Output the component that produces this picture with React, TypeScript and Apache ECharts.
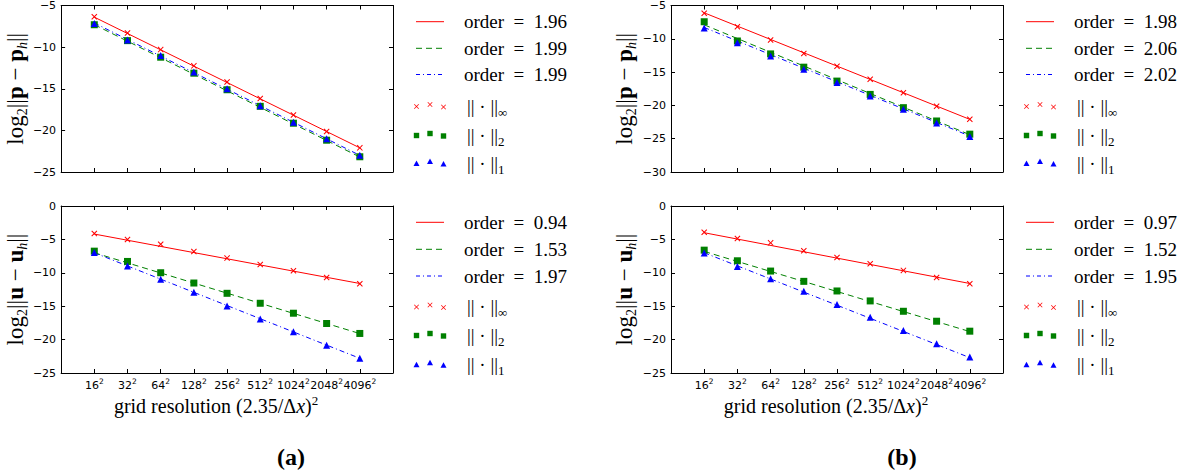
import React, { useEffect, useRef } from "react";
import * as echarts from "echarts";

// x positions: log2 of grid size N (tick label N^2)
const gridLog2 = [4, 5, 6, 7, 8, 9, 10, 11, 12];
const fitEnds = [4, 12];

// Panel (a) top: pressure error
const aP_inf = [-6.35, -8.31, -10.3, -12.25, -14.2, -16.16, -18.15, -20.14, -22.1];
const aP_l2 = [-7.31, -9.22, -11.21, -13.13, -15.12, -17.11, -19.14, -21.18, -23.17];
const aP_l1 = [-7.15, -9.14, -11.02, -13.0, -15.0, -17.03, -19.02, -21.02, -23.0];
const aP_fitInf = [-6.4, -22.1];
const aP_fitL2 = [-7.3, -23.2];
const aP_fitL1 = [-7.1, -23.0];
const aP_orders = ["1.96", "1.99", "1.99"];

// Panel (a) bottom: velocity error
const aU_inf = [-4.13, -5.02, -5.72, -6.81, -7.8, -8.75, -9.69, -10.69, -11.63];
const aU_l2 = [-6.76, -8.3, -9.99, -11.53, -13.07, -14.56, -16.05, -17.59, -19.08];
const aU_l1 = [-6.96, -9.0, -10.98, -12.92, -14.96, -16.9, -18.84, -20.83, -22.81];
const aU_fitInf = [-4.2, -11.6];
const aU_fitL2 = [-7.0, -19.1];
const aU_fitL1 = [-7.0, -22.8];
const aU_orders = ["0.94", "1.53", "1.97"];

// Panel (b) top
const bP_inf = [-6.15, -8.19, -10.18, -12.22, -14.11, -16.06, -18.1, -20.14, -22.08];
const bP_l2 = [-7.44, -10.33, -12.27, -14.26, -16.35, -18.35, -20.34, -22.34, -24.32];
const bP_l1 = [-8.39, -10.58, -12.57, -14.56, -16.55, -18.6, -20.59, -22.63, -24.67];
const bP_fitInf = [-6.1, -22.1];
const bP_fitL2 = [-7.9, -24.4];
const bP_fitL1 = [-8.3, -24.6];
const bP_orders = ["1.98", "2.06", "2.02"];

// Panel (b) bottom
const bU_inf = [-3.93, -4.87, -5.52, -6.71, -7.7, -8.65, -9.64, -10.69, -11.63];
const bU_l2 = [-6.61, -8.2, -9.74, -11.28, -12.72, -14.21, -15.76, -17.25, -18.74];
const bU_l1 = [-7.05, -9.04, -10.88, -12.77, -14.76, -16.65, -18.64, -20.63, -22.61];
const bU_fitInf = [-4.0, -11.6];
const bU_fitL2 = [-6.8, -18.8];
const bU_fitL1 = [-7.0, -22.7];
const bU_orders = ["0.97", "1.52", "1.95"];

const RED = "#ff0000";
const GREEN = "#008000";
const BLUE = "#0000ff";
const SERIF = "Liberation Serif";
const SANS = "DejaVu Sans";

const X_SYMBOL =
  "path://M0,1.2 L1.2,0 L5,3.8 L8.8,0 L10,1.2 L6.2,5 L10,8.8 L8.8,10 L5,6.2 L1.2,10 L0,8.8 L3.8,5 Z";

type Panel = {
  left: number;
  top: number;
  width: number;
  height: number;
  ymin: number;
  ymax: number;
  showX: boolean;
  yName: string;
  inf: number[];
  l2: number[];
  l1: number[];
  fitInf: number[];
  fitL2: number[];
  fitL1: number[];
  orders: string[];
  legX: number;
  rows: number[];
};

const panels: Panel[] = [
  {
    left: 60, top: 5, width: 333, height: 167, ymin: -25, ymax: -5, showX: false, yName: "p",
    inf: aP_inf, l2: aP_l2, l1: aP_l1, fitInf: aP_fitInf, fitL2: aP_fitL2, fitL1: aP_fitL1,
    orders: aP_orders, legX: 416, rows: [21.7, 48.3, 74.5, 106, 135, 163],
  },
  {
    left: 60, top: 206, width: 333, height: 167, ymin: -25, ymax: 0, showX: true, yName: "u",
    inf: aU_inf, l2: aU_l2, l1: aU_l1, fitInf: aU_fitInf, fitL2: aU_fitL2, fitL1: aU_fitL1,
    orders: aU_orders, legX: 416, rows: [222.3, 249.3, 276, 306.5, 335, 364.3],
  },
  {
    left: 671, top: 5, width: 332, height: 167, ymin: -30, ymax: -5, showX: false, yName: "p",
    inf: bP_inf, l2: bP_l2, l1: bP_l1, fitInf: bP_fitInf, fitL2: bP_fitL2, fitL1: bP_fitL1,
    orders: bP_orders, legX: 1026, rows: [21.7, 48.3, 74.5, 106, 135, 163],
  },
  {
    left: 671, top: 206, width: 332, height: 167, ymin: -25, ymax: 0, showX: true, yName: "u",
    inf: bU_inf, l2: bU_l2, l1: bU_l1, fitInf: bU_fitInf, fitL2: bU_fitL2, fitL1: bU_fitL1,
    orders: bU_orders, legX: 1026, rows: [222.3, 249.3, 276, 306.5, 335, 364.3],
  },
];

const minusFmt = (v: number) => (v < 0 ? "\u2212" + Math.abs(v) : String(v));

function txt(x: number, y: number, text: string, size: number, family: string, extra: any = {}) {
  return {
    type: "text", x, y, silent: true,
    style: { text, fill: "#000", fontFamily: family, fontSize: size, align: "left", verticalAlign: "middle", ...extra },
  };
}

function buildOption() {
  const grid: any[] = [];
  const xAxis: any[] = [];
  const yAxis: any[] = [];
  const series: any[] = [];
  const graphic: any[] = [];

  const axisLine = { show: true, onZero: false, lineStyle: { color: "#000", width: 1 } };
  const axisTick = { show: true, inside: true, length: 4, lineStyle: { color: "#000", width: 1 } };

  panels.forEach((p, i) => {
    grid.push({ left: p.left, top: p.top, width: p.width, height: p.height, containLabel: false });
    const xi = xAxis.length;
    xAxis.push({
      type: "value", gridIndex: i, min: 3, max: 13, interval: 1, position: "bottom",
      axisLine, axisTick, splitLine: { show: false },
      axisLabel: {
        show: p.showX, margin: 4, color: "#000", fontFamily: SANS, fontSize: 11, lineHeight: 16,
        formatter: (v: number) => (v >= 4 && v <= 12 ? `${Math.pow(2, v)}{s|2}` : ""),
        rich: { s: { fontSize: 7.5, fontFamily: SANS, verticalAlign: "top", lineHeight: 8, color: "#000" } },
      },
      name: p.showX ? "grid resolution (2.35/\u0394{i|x}){s|2}" : "",
      nameLocation: "middle",
      nameGap: 20,
      nameTextStyle: {
        fontFamily: SERIF, fontSize: 20, color: "#000", lineHeight: 24, padding: [0, 22, 0, 0],
        rich: {
          i: { fontFamily: SERIF, fontSize: 20, fontStyle: "italic", color: "#000", lineHeight: 24 },
          s: { fontFamily: SERIF, fontSize: 13, verticalAlign: "top", lineHeight: 12, color: "#000" },
        },
      },
    });
    xAxis.push({
      type: "value", gridIndex: i, min: 3, max: 13, interval: 1, position: "top",
      axisLine, axisTick, axisLabel: { show: false }, splitLine: { show: false },
    });
    const yi = yAxis.length;
    const v = p.yName;
    yAxis.push({
      type: "value", gridIndex: i, min: p.ymin, max: p.ymax, interval: 5, position: "left",
      axisLine, axisTick, splitLine: { show: false },
      axisLabel: { color: "#000", fontFamily: SANS, fontSize: 11, margin: 5, formatter: minusFmt },
      name: `log{s|2}||{b|${v}} \u2212 {b|${v}}{h|h}||`,
      nameLocation: "middle",
      nameRotate: 90,
      nameGap: 31,
      nameTextStyle: {
        fontFamily: SERIF, fontSize: 23, color: "#000", lineHeight: 28,
        rich: {
          b: { fontFamily: SERIF, fontSize: 23, fontWeight: "bold", color: "#000", lineHeight: 28 },
          s: { fontFamily: SERIF, fontSize: 14, verticalAlign: "bottom", lineHeight: 14, color: "#000" },
          h: { fontFamily: SERIF, fontSize: 14, fontStyle: "italic", verticalAlign: "bottom", lineHeight: 14, color: "#000" },
        },
      },
    });
    yAxis.push({
      type: "value", gridIndex: i, min: p.ymin, max: p.ymax, interval: 5, position: "right",
      axisLine, axisTick, axisLabel: { show: false }, splitLine: { show: false },
    });

    const fit = (vals: number[], color: string, type: any, z: number) => ({
      type: "line", xAxisIndex: xi, yAxisIndex: yi, showSymbol: false, symbol: "none",
      data: fitEnds.map((x, k) => [x, vals[k]]),
      lineStyle: { color, width: 1, type }, z, silent: true,
    });
    series.push(fit(p.fitInf, RED, "solid", 2));
    series.push(fit(p.fitL2, GREEN, [6, 4], 2));
    series.push(fit(p.fitL1, BLUE, [5, 3, 1, 3], 2));

    const sc = (vals: number[], color: string, symbol: string, size: number, z: number) => ({
      type: "scatter", xAxisIndex: xi, yAxisIndex: yi, symbol, symbolSize: size,
      data: gridLog2.map((x, k) => [x, vals[k]]),
      itemStyle: { color, opacity: 1 }, z, silent: true,
    });
    series.push(sc(p.inf, RED, X_SYMBOL, 6, 3));
    series.push(sc(p.l2, GREEN, "rect", 7, 4));
    series.push(sc(p.l1, BLUE, "triangle", 7, 5));

    // legend (drawn)
    const lx0 = p.legX;
    const lx1 = p.legX + 28;
    const tx = p.legX + 48;
    const lines: [string, any][] = [
      [RED, null],
      [GREEN, [6, 4]],
      [BLUE, [4, 3, 1, 3]],
    ];
    lines.forEach(([c, dash], k) => {
      graphic.push({
        type: "line", shape: { x1: lx0, y1: p.rows[k], x2: lx1, y2: p.rows[k] },
        style: { stroke: c, lineWidth: 1, lineDash: dash || undefined }, silent: true,
      });
      graphic.push(txt(tx, p.rows[k], `order  =  ${p.orders[k]}`, 19, SERIF));
    });
    const mx = [lx0 + 0.5, lx0 + 14, lx0 + 27.5];
    const dy = [0.5, -1.5, 1];
    mx.forEach((x, k) => {
      const y = p.rows[3] + dy[k];
      graphic.push({
        type: "polygon",
        shape: {
          points: [
            [x - 2.5, y - 2], [x - 2, y - 2.5], [x, y - 0.5], [x + 2, y - 2.5], [x + 2.5, y - 2],
            [x + 0.5, y], [x + 2.5, y + 2], [x + 2, y + 2.5], [x, y + 0.5], [x - 2, y + 2.5],
            [x - 2.5, y + 2], [x - 0.5, y],
          ],
        },
        style: { fill: RED }, silent: true,
      });
      const y2 = p.rows[4] + dy[k];
      graphic.push({ type: "rect", shape: { x: x - 2.7, y: y2 - 2.7, width: 5.4, height: 5.4 }, style: { fill: GREEN }, silent: true });
      const y3 = p.rows[5] + dy[k];
      graphic.push({
        type: "polygon",
        shape: { points: [[x, y3 - 3], [x + 3, y3 + 2.5], [x - 3, y3 + 2.5]] },
        style: { fill: BLUE }, silent: true,
      });
    });
    const normSubs = ["\u221e", "2", "1"];
    normSubs.forEach((sub, k) => {
      const y = p.rows[3 + k];
      graphic.push(txt(tx + 3, y, "|| \u00b7 ||", 19, SERIF));
      graphic.push(txt(tx + 34, y + 6, sub, 13, SERIF));
    });
  });

  graphic.push(txt(291, 457, "(a)", 24, SERIF, { fontWeight: "bold", align: "center" }));
  graphic.push(txt(902, 457, "(b)", 24, SERIF, { fontWeight: "bold", align: "center" }));

  return {
    animation: false,
    backgroundColor: "#ffffff",
    grid,
    xAxis,
    yAxis,
    series,
    graphic,
  };
}

export default function App() {
  const ref = useRef<HTMLDivElement>(null);
  useEffect(() => {
    if (!ref.current) return;
    const chart = echarts.init(ref.current, undefined, { renderer: "svg" });
    chart.setOption(buildOption() as any);
    return () => chart.dispose();
  }, []);
  return (
    <div
      ref={ref}
      style={{ position: "fixed", left: 0, top: 0, width: 1190, height: 474, background: "#fff" }}
    />
  );
}
